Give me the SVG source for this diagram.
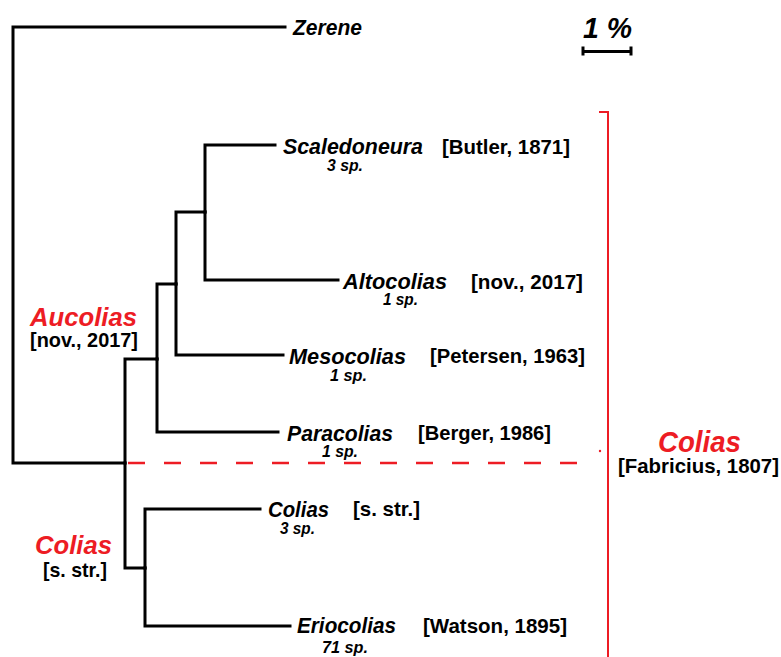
<svg xmlns="http://www.w3.org/2000/svg" width="781" height="657" viewBox="0 0 781 657">
<style>
text { font-family: "Liberation Sans", Arial, sans-serif; font-weight: bold; }
.sp { font-style: italic; font-size: 22.5px; fill: #000; }
.n { font-style: italic; font-size: 16px; fill: #000; }
.au { font-size: 20.5px; fill: #000; }
.red { font-style: italic; fill: #ED1C24; }
.br { fill: none; stroke: #000; stroke-width: 3; stroke-linecap: square; stroke-linejoin: miter; }
.rl { fill: none; stroke: #ED1C24; stroke-width: 2; }
</style>
<rect width="781" height="657" fill="#fff"/>
<g id="connectors">
  <path class="br" d="M285 27 H13 V463 H125"/>
  <path class="br" d="M125 463 V359 H157"/>
  <path class="br" d="M125 463 V568 H145"/>
  <path class="br" d="M157 359 V284 H176"/>
  <path class="br" d="M157 359 V432 H278"/>
  <path class="br" d="M176 284 V212 H205"/>
  <path class="br" d="M176 284 V355 H283"/>
  <path class="br" d="M205 212 V145 H275"/>
  <path class="br" d="M205 212 V280 H338"/>
  <path class="br" d="M145 568 V509 H260"/>
  <path class="br" d="M145 568 V626 H290"/>
</g>
<g id="scale">
  <text x="583" y="38" font-size="29" font-style="italic" textLength="49" lengthAdjust="spacingAndGlyphs">1 %</text>
  <path d="M583 51.5 H631 M583 46.5 V55.5 M631 46.5 V55.5" fill="none" stroke="#000" stroke-width="3"/>
</g>
<g id="zerene"><text class="sp" x="293" y="35" textLength="69" lengthAdjust="spacingAndGlyphs">Zerene</text></g>
<g id="scaledoneura">
  <text class="sp" x="283" y="154" textLength="140" lengthAdjust="spacingAndGlyphs">Scaledoneura</text>
  <text class="n" x="327" y="171" textLength="36" lengthAdjust="spacingAndGlyphs">3 sp.</text>
  <text class="au" x="442" y="154" textLength="128" lengthAdjust="spacingAndGlyphs">[Butler, 1871]</text>
</g>
<g id="altocolias">
  <text class="sp" x="343" y="289" textLength="104" lengthAdjust="spacingAndGlyphs">Altocolias</text>
  <text class="n" x="383" y="305" textLength="35" lengthAdjust="spacingAndGlyphs">1 sp.</text>
  <text class="au" x="471" y="289" textLength="112" lengthAdjust="spacingAndGlyphs">[nov., 2017]</text>
</g>
<g id="mesocolias">
  <text class="sp" x="289" y="364" textLength="117" lengthAdjust="spacingAndGlyphs">Mesocolias</text>
  <text class="n" x="330" y="381" textLength="37" lengthAdjust="spacingAndGlyphs">1 sp.</text>
  <text class="au" x="430" y="363" textLength="155" lengthAdjust="spacingAndGlyphs">[Petersen, 1963]</text>
</g>
<g id="paracolias">
  <text class="sp" x="287" y="441" textLength="106" lengthAdjust="spacingAndGlyphs">Paracolias</text>
  <text class="n" x="322" y="457" textLength="36" lengthAdjust="spacingAndGlyphs">1 sp.</text>
  <text class="au" x="418" y="440" textLength="133" lengthAdjust="spacingAndGlyphs">[Berger, 1986]</text>
</g>
<g id="colias-sstr">
  <text class="sp" x="268" y="517" textLength="61" lengthAdjust="spacingAndGlyphs">Colias</text>
  <text class="n" x="280" y="534" textLength="35" lengthAdjust="spacingAndGlyphs">3 sp.</text>
  <text class="au" x="353" y="516" textLength="67" lengthAdjust="spacingAndGlyphs">[s. str.]</text>
</g>
<g id="eriocolias">
  <text class="sp" x="297" y="633" textLength="99" lengthAdjust="spacingAndGlyphs">Eriocolias</text>
  <text class="n" x="322" y="653" textLength="46" lengthAdjust="spacingAndGlyphs">71 sp.</text>
  <text class="au" x="423" y="633" textLength="144" lengthAdjust="spacingAndGlyphs">[Watson, 1895]</text>
</g>
<g id="aucolias-label">
  <text class="red" x="30" y="326" font-size="26" textLength="107" lengthAdjust="spacingAndGlyphs">Aucolias</text>
  <text class="au" x="30" y="347" textLength="108" lengthAdjust="spacingAndGlyphs">[nov., 2017]</text>
</g>
<g id="colias-left-label">
  <text class="red" x="35" y="554" font-size="26" textLength="77" lengthAdjust="spacingAndGlyphs">Colias</text>
  <text class="au" x="43" y="577" textLength="64" lengthAdjust="spacingAndGlyphs">[s. str.]</text>
</g>
<g id="colias-genus">
  <path class="rl" d="M599 112 H608 V657"/>
  <circle cx="600" cy="451" r="1.2" fill="#ED1C24"/>
  <line x1="128" y1="463" x2="582" y2="463" stroke="#ED1C24" stroke-width="2.5" stroke-dasharray="17 19"/>
  <text class="red" x="658" y="452" font-size="30" textLength="83" lengthAdjust="spacingAndGlyphs">Colias</text>
  <text class="au" x="618" y="473" textLength="161" lengthAdjust="spacingAndGlyphs">[Fabricius, 1807]</text>
</g>
</svg>
